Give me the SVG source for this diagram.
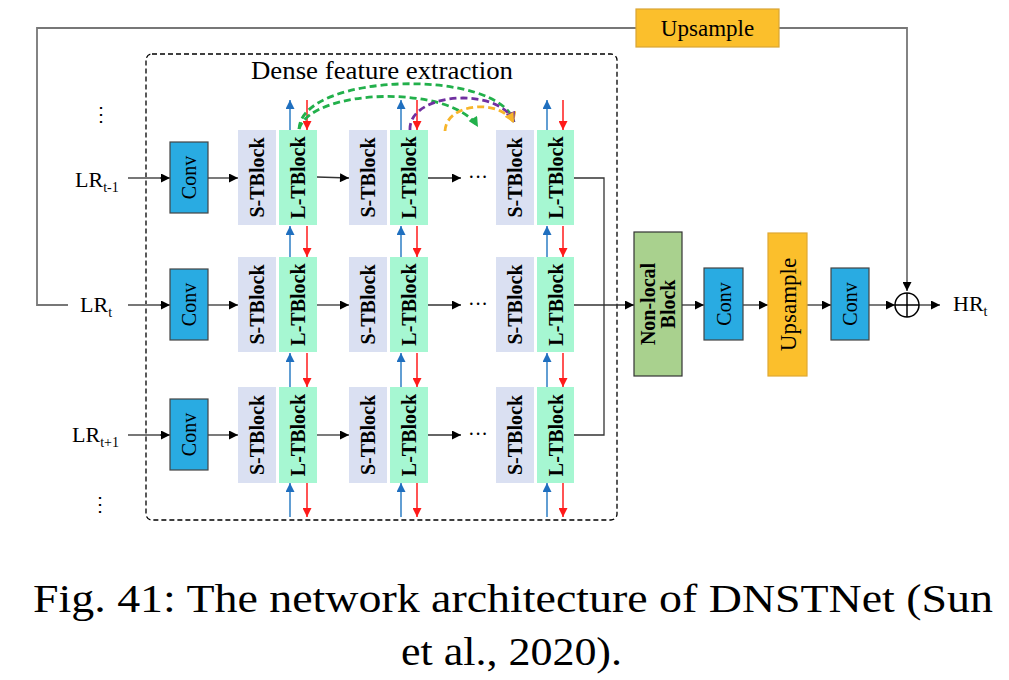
<svg xmlns="http://www.w3.org/2000/svg" width="1009" height="680" viewBox="0 0 1009 680">
<style>
.t{font-family:"Liberation Serif","Times New Roman",serif;fill:#000}
.stb{fill:#dae0f2}
.ltb{fill:#a6f7d2}
.conv{fill:#29abe2;stroke:#444;stroke-width:1.2}
.ln{fill:none;stroke:#333;stroke-width:1.3}
.gl{fill:none;stroke:#777;stroke-width:1.8}
.bl{stroke:#3a86c8;stroke-width:1.6}
.rd{stroke:#ff2a2a;stroke-width:1.6}
.bt{font-weight:bold;font-size:20px}
.arc{fill:none;stroke-width:2.8;stroke-dasharray:7,4}
</style>
<defs>
<marker id="ak" viewBox="0 0 10 10" refX="10" refY="5" markerUnits="userSpaceOnUse" markerWidth="10" markerHeight="9" orient="auto"><path d="M0,0L10,5L0,10z" fill="#000"/></marker>
<marker id="ab" viewBox="0 0 10 10" refX="10" refY="5" markerUnits="userSpaceOnUse" markerWidth="10" markerHeight="9" orient="auto"><path d="M0,0L10,5L0,10z" fill="#1f6fbf"/></marker>
<marker id="ar" viewBox="0 0 10 10" refX="10" refY="5" markerUnits="userSpaceOnUse" markerWidth="10" markerHeight="9" orient="auto"><path d="M0,0L10,5L0,10z" fill="#ff1a1a"/></marker>
<marker id="ag" viewBox="0 0 10 10" refX="10" refY="5" markerUnits="userSpaceOnUse" markerWidth="11" markerHeight="10" orient="auto"><path d="M0,0L10,5L0,10z" fill="#22b04b"/></marker>
<marker id="ay" viewBox="0 0 10 10" refX="10" refY="5" markerUnits="userSpaceOnUse" markerWidth="11" markerHeight="10" orient="auto"><path d="M0,0L10,5L0,10z" fill="#f7b52a"/></marker>
<marker id="ap" viewBox="0 0 10 10" refX="10" refY="5" markerUnits="userSpaceOnUse" markerWidth="11" markerHeight="10" orient="auto"><path d="M0,0L10,5L0,10z" fill="#7030a0"/></marker>
</defs>

<rect x="0" y="0" width="1009" height="680" fill="#fff"/>

<!-- dense feature extraction box -->
<g id="dense-box">
<rect x="146" y="54" width="471" height="466" rx="6" fill="none" stroke="#000" stroke-width="1.3" stroke-dasharray="5,3"/>
<text class="t" x="382" y="79" font-size="25" text-anchor="middle" textLength="262" lengthAdjust="spacingAndGlyphs">Dense feature extraction</text>
</g>

<!-- connectors -->
<g id="connectors">
<!-- skip upsample path -->
<polyline class="gl" points="68,305 37,305 37,28 636,28"/>
<polyline class="gl" points="779,28 907,28 907,280"/>
<line class="ln" x1="907" y1="280" x2="907" y2="291" marker-end="url(#ak)"/>
<!-- inputs -->
<line class="gl" x1="128" y1="178" x2="162" y2="178"/><line class="ln" x1="160" y1="178" x2="170" y2="178" marker-end="url(#ak)"/>
<line class="gl" x1="128" y1="305" x2="162" y2="305"/><line class="ln" x1="160" y1="305" x2="170" y2="305" marker-end="url(#ak)"/>
<line class="gl" x1="128" y1="435" x2="162" y2="435"/><line class="ln" x1="160" y1="435" x2="170" y2="435" marker-end="url(#ak)"/>
<!-- conv to S-TBlock -->
<line class="ln" x1="208" y1="178" x2="238" y2="178" marker-end="url(#ak)"/>
<line class="ln" x1="208" y1="305" x2="238" y2="305" marker-end="url(#ak)"/>
<line class="ln" x1="208" y1="435" x2="238" y2="435" marker-end="url(#ak)"/>
<!-- L1 to S2 -->
<line class="ln" x1="317" y1="177" x2="349" y2="178" marker-end="url(#ak)"/>
<line class="ln" x1="317" y1="305" x2="349" y2="305" marker-end="url(#ak)"/>
<line class="ln" x1="317" y1="435" x2="349" y2="435" marker-end="url(#ak)"/>
<!-- L2 to dots -->
<line class="ln" x1="428" y1="178" x2="461" y2="178" marker-end="url(#ak)"/>
<line class="ln" x1="428" y1="305" x2="461" y2="305" marker-end="url(#ak)"/>
<line class="ln" x1="428" y1="435" x2="461" y2="435" marker-end="url(#ak)"/>
<!-- merge -->
<polyline class="ln" points="574,178 604,178 604,435 574,435"/>
<line class="ln" x1="574" y1="305" x2="634" y2="305" marker-end="url(#ak)"/>
<line class="ln" x1="682" y1="305" x2="704" y2="305" marker-end="url(#ak)"/>
<line class="ln" x1="743" y1="305" x2="768" y2="305" marker-end="url(#ak)"/>
<line class="ln" x1="807" y1="305" x2="831" y2="305" marker-end="url(#ak)"/>
<line class="ln" x1="869" y1="305" x2="895" y2="305" marker-end="url(#ak)"/>
<line class="ln" x1="919" y1="305" x2="940" y2="305" marker-end="url(#ak)"/>
<!-- blue / red vertical arrows -->
<g>
<line class="bl" x1="290" y1="130" x2="290" y2="100" marker-end="url(#ab)"/>
<line class="rd" x1="307" y1="100" x2="307" y2="130" marker-end="url(#ar)"/>
<line class="bl" x1="401" y1="130" x2="401" y2="100" marker-end="url(#ab)"/>
<line class="rd" x1="417" y1="100" x2="417" y2="130" marker-end="url(#ar)"/>
<line class="bl" x1="547" y1="130" x2="547" y2="100" marker-end="url(#ab)"/>
<line class="rd" x1="563" y1="100" x2="563" y2="130" marker-end="url(#ar)"/>

<line class="bl" x1="290" y1="257" x2="290" y2="226" marker-end="url(#ab)"/>
<line class="rd" x1="307" y1="226" x2="307" y2="257" marker-end="url(#ar)"/>
<line class="bl" x1="401" y1="257" x2="401" y2="226" marker-end="url(#ab)"/>
<line class="rd" x1="417" y1="226" x2="417" y2="257" marker-end="url(#ar)"/>
<line class="bl" x1="547" y1="257" x2="547" y2="226" marker-end="url(#ab)"/>
<line class="rd" x1="563" y1="226" x2="563" y2="257" marker-end="url(#ar)"/>

<line class="bl" x1="290" y1="387" x2="290" y2="353" marker-end="url(#ab)"/>
<line class="rd" x1="307" y1="353" x2="307" y2="387" marker-end="url(#ar)"/>
<line class="bl" x1="401" y1="387" x2="401" y2="353" marker-end="url(#ab)"/>
<line class="rd" x1="417" y1="353" x2="417" y2="387" marker-end="url(#ar)"/>
<line class="bl" x1="547" y1="387" x2="547" y2="353" marker-end="url(#ab)"/>
<line class="rd" x1="563" y1="353" x2="563" y2="387" marker-end="url(#ar)"/>

<line class="bl" x1="290" y1="517" x2="290" y2="483" marker-end="url(#ab)"/>
<line class="rd" x1="307" y1="483" x2="307" y2="517" marker-end="url(#ar)"/>
<line class="bl" x1="401" y1="517" x2="401" y2="483" marker-end="url(#ab)"/>
<line class="rd" x1="417" y1="483" x2="417" y2="517" marker-end="url(#ar)"/>
<line class="bl" x1="547" y1="517" x2="547" y2="483" marker-end="url(#ab)"/>
<line class="rd" x1="563" y1="483" x2="563" y2="517" marker-end="url(#ar)"/>
</g>
<!-- dense arcs -->
<path class="arc" stroke="#22b04b" d="M299,129 C302,72 500,68 514,122" marker-end="url(#ay)"/>
<path class="arc" stroke="#22b04b" d="M299,129 C312,88 452,84 478,127" marker-end="url(#ag)"/>
<path class="arc" stroke="#7030a0" d="M410,130 C408,92 500,86 514,122" marker-end="url(#ap)"/>
<path class="arc" stroke="#f7b52a" d="M445,131 C446,103 500,98 514,123" marker-end="url(#ay)"/>
</g>

<!-- inputs labels -->
<g id="inputs">
<text class="t" x="101" y="121" font-size="20" text-anchor="middle">⋮</text>
<text class="t" x="75" y="187" font-size="22">LR<tspan font-size="14" dy="5">t-1</tspan></text>
<text class="t" x="80" y="312" font-size="22">LR<tspan font-size="14" dy="5">t</tspan></text>
<text class="t" x="72" y="442" font-size="22">LR<tspan font-size="14" dy="5">t+1</tspan></text>
<text class="t" x="100" y="511" font-size="20" text-anchor="middle">⋮</text>
</g>

<!-- conv nodes -->
<g id="conv-1"><rect class="conv" x="170" y="142" width="38" height="71"/><text class="t" font-size="20" text-anchor="middle" transform="translate(189,177.5) rotate(-90)" dy="7">Conv</text></g>
<g id="conv-2"><rect class="conv" x="170" y="269" width="38" height="71"/><text class="t" font-size="20" text-anchor="middle" transform="translate(189,304.5) rotate(-90)" dy="7">Conv</text></g>
<g id="conv-3"><rect class="conv" x="170" y="399" width="38" height="71"/><text class="t" font-size="20" text-anchor="middle" transform="translate(189,434.5) rotate(-90)" dy="7">Conv</text></g>

<!-- TBlocks row 1 -->
<g id="s1-1"><rect class="stb" x="238" y="130" width="38" height="95"/><text class="t bt" text-anchor="middle" transform="translate(257,177.5) rotate(-90)" dy="7">S-TBlock</text></g>
<g id="l1-1"><rect class="ltb" x="279" y="130" width="38" height="95"/><text class="t bt" text-anchor="middle" transform="translate(298,177.5) rotate(-90)" dy="7">L-TBlock</text></g>
<g id="s1-2"><rect class="stb" x="349" y="130" width="38" height="95"/><text class="t bt" text-anchor="middle" transform="translate(368,177.5) rotate(-90)" dy="7">S-TBlock</text></g>
<g id="l1-2"><rect class="ltb" x="390" y="130" width="38" height="95"/><text class="t bt" text-anchor="middle" transform="translate(409,177.5) rotate(-90)" dy="7">L-TBlock</text></g>
<g id="s1-3"><rect class="stb" x="496" y="130" width="38" height="95"/><text class="t bt" text-anchor="middle" transform="translate(515,177.5) rotate(-90)" dy="7">S-TBlock</text></g>
<g id="l1-3"><rect class="ltb" x="537" y="130" width="37" height="95"/><text class="t bt" text-anchor="middle" transform="translate(555.5,177.5) rotate(-90)" dy="7">L-TBlock</text></g>
<text class="t" x="478" y="184" font-size="20" text-anchor="middle">···</text>

<!-- TBlocks row 2 -->
<g id="s2-1"><rect class="stb" x="238" y="257" width="38" height="95"/><text class="t bt" text-anchor="middle" transform="translate(257,304.5) rotate(-90)" dy="7">S-TBlock</text></g>
<g id="l2-1"><rect class="ltb" x="279" y="257" width="38" height="95"/><text class="t bt" text-anchor="middle" transform="translate(298,304.5) rotate(-90)" dy="7">L-TBlock</text></g>
<g id="s2-2"><rect class="stb" x="349" y="257" width="38" height="95"/><text class="t bt" text-anchor="middle" transform="translate(368,304.5) rotate(-90)" dy="7">S-TBlock</text></g>
<g id="l2-2"><rect class="ltb" x="390" y="257" width="38" height="95"/><text class="t bt" text-anchor="middle" transform="translate(409,304.5) rotate(-90)" dy="7">L-TBlock</text></g>
<g id="s2-3"><rect class="stb" x="496" y="257" width="38" height="95"/><text class="t bt" text-anchor="middle" transform="translate(515,304.5) rotate(-90)" dy="7">S-TBlock</text></g>
<g id="l2-3"><rect class="ltb" x="537" y="257" width="37" height="95"/><text class="t bt" text-anchor="middle" transform="translate(555.5,304.5) rotate(-90)" dy="7">L-TBlock</text></g>
<text class="t" x="478" y="311" font-size="20" text-anchor="middle">···</text>

<!-- TBlocks row 3 -->
<g id="s3-1"><rect class="stb" x="238" y="387" width="38" height="96"/><text class="t bt" text-anchor="middle" transform="translate(257,435) rotate(-90)" dy="7">S-TBlock</text></g>
<g id="l3-1"><rect class="ltb" x="279" y="387" width="38" height="96"/><text class="t bt" text-anchor="middle" transform="translate(298,435) rotate(-90)" dy="7">L-TBlock</text></g>
<g id="s3-2"><rect class="stb" x="349" y="387" width="38" height="96"/><text class="t bt" text-anchor="middle" transform="translate(368,435) rotate(-90)" dy="7">S-TBlock</text></g>
<g id="l3-2"><rect class="ltb" x="390" y="387" width="38" height="96"/><text class="t bt" text-anchor="middle" transform="translate(409,435) rotate(-90)" dy="7">L-TBlock</text></g>
<g id="s3-3"><rect class="stb" x="496" y="387" width="38" height="96"/><text class="t bt" text-anchor="middle" transform="translate(515,435) rotate(-90)" dy="7">S-TBlock</text></g>
<g id="l3-3"><rect class="ltb" x="537" y="387" width="37" height="96"/><text class="t bt" text-anchor="middle" transform="translate(555.5,435) rotate(-90)" dy="7">L-TBlock</text></g>
<text class="t" x="478" y="441" font-size="20" text-anchor="middle">···</text>

<!-- right side -->
<g id="nonlocal"><rect x="634" y="232" width="48" height="144" fill="#a9d18e" stroke="#333" stroke-width="1.2"/>
<text class="t bt" text-anchor="middle" transform="translate(658,304) rotate(-90)"><tspan x="0" y="-3">Non-local</tspan><tspan x="0" y="17">Block</tspan></text></g>
<g id="conv-4"><rect class="conv" x="704" y="268" width="39" height="72"/><text class="t" font-size="20" text-anchor="middle" transform="translate(723.5,304) rotate(-90)" dy="7">Conv</text></g>
<g id="upsample-v"><rect x="768" y="233" width="39" height="143" fill="#fbbf2c" stroke="#e0a832" stroke-width="1.2"/><text class="t" font-size="23" text-anchor="middle" transform="translate(787.5,304.5) rotate(-90)" dy="8">Upsample</text></g>
<g id="conv-5"><rect class="conv" x="831" y="268" width="38" height="72"/><text class="t" font-size="20" text-anchor="middle" transform="translate(850,304) rotate(-90)" dy="7">Conv</text></g>
<g id="sum"><circle cx="907" cy="305" r="12" fill="#fff" stroke="#000" stroke-width="1.5"/><line x1="895" y1="305" x2="919" y2="305" stroke="#000" stroke-width="1.5"/><line x1="907" y1="293" x2="907" y2="317" stroke="#000" stroke-width="1.5"/></g>
<g id="hr"><text class="t" x="953" y="311" font-size="22">HR<tspan font-size="14" dy="5">t</tspan></text></g>
<g id="upsample-top"><rect x="636" y="9" width="143" height="38" fill="#fbbf2c" stroke="#d9a535" stroke-width="1.2"/><text class="t" x="707.5" y="36" font-size="23" text-anchor="middle">Upsample</text></g>

<!-- caption -->
<text class="t" x="33" y="612" font-size="40" textLength="960" lengthAdjust="spacingAndGlyphs">Fig. 41: The network architecture of DNSTNet (Sun</text>
<text class="t" x="401" y="665" font-size="40" textLength="221" lengthAdjust="spacingAndGlyphs">et al., 2020).</text>
</svg>
